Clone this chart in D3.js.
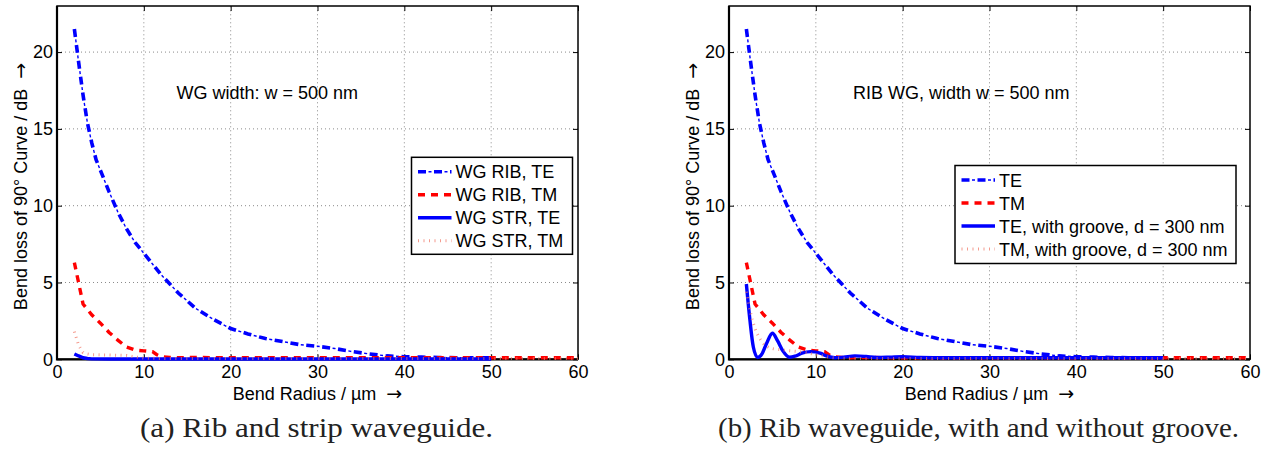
<!DOCTYPE html>
<html>
<head>
<meta charset="utf-8">
<script src="https://cdn.jsdelivr.net/npm/d3@7"></script>
<style>
  body { margin: 0; background: #fff; }
  svg { display: block; }
  text { font-family: "Liberation Sans", Arial, Helvetica, sans-serif; }
</style>
</head>
<body>
<div id="chart"></div>
<script>
// ticks
const xTicks = [0, 10, 20, 30, 40, 50, 60];
const yTicks = [0, 5, 10, 15, 20];

// rib waveguide (both panels)
const ribTeRadius = [2, 2.5, 3, 3.5, 4, 4.5, 5, 6, 7, 8, 9, 10, 11, 12, 13, 14, 15, 16, 18, 20, 22, 24, 26, 28, 30, 32, 34, 36, 38, 40, 42, 44, 46, 48, 50];
const ribTeLoss   = [21.5, 19.3, 17.2, 15.4, 14.1, 13.0, 12.3, 10.9, 9.6, 8.5, 7.6, 6.9, 6.2, 5.5, 4.9, 4.3, 3.8, 3.3, 2.6, 2.0, 1.65, 1.35, 1.15, 0.95, 0.85, 0.7, 0.5, 0.35, 0.22, 0.17, 0.14, 0.12, 0.1, 0.1, 0.1];
const ribTmRadius = [2, 3, 4, 5, 6, 7, 8, 9, 10, 11, 11.5, 12, 13, 14, 16, 20, 30, 40, 50, 60];
const ribTmLoss   = [6.3, 3.6, 2.9, 2.35, 1.75, 1.25, 0.8, 0.6, 0.55, 0.5, 0.3, 0.18, 0.12, 0.1, 0.12, 0.1, 0.1, 0.1, 0.1, 0.1];

// strip waveguide (panel a)
const strTeRadius = [2, 2.5, 3, 3.5, 4, 6, 10, 20, 30, 40, 50];
const strTeLoss   = [0.35, 0.22, 0.1, 0.05, 0.03, 0.02, 0.02, 0.02, 0.02, 0.02, 0.02];
const strTmRadius = [2, 2.5, 3, 3.5, 4, 6, 8, 9, 10, 12, 20, 30, 40, 50, 60];
const strTmLoss   = [1.8, 0.9, 0.45, 0.35, 0.3, 0.28, 0.25, 0.15, 0.08, 0.05, 0.05, 0.05, 0.05, 0.05, 0.05];

// rib waveguide with groove (panel b)
const grvTeRadius = [2, 2.4, 2.8, 3.3, 3.8, 4.3, 5, 5.6, 6.2, 7, 7.6, 8.4, 9.4, 10.5, 11.3, 12.2, 13.2, 14.5, 15.8, 17, 18.5, 20, 22, 25, 30, 40, 50];
const grvTeLoss   = [4.9, 2.6, 0.8, 0.12, 0.35, 1.0, 1.7, 1.2, 0.55, 0.13, 0.2, 0.4, 0.5, 0.4, 0.2, 0.1, 0.14, 0.22, 0.18, 0.12, 0.14, 0.17, 0.12, 0.1, 0.1, 0.1, 0.1];
const grvTmRadius = [2, 2.5, 3, 3.5, 4, 4.5, 5, 6, 7, 8, 9, 10, 11, 12, 14, 20, 30, 40, 50, 60];
const grvTmLoss   = [4.4, 3.0, 2.0, 1.4, 1.0, 0.8, 0.7, 0.62, 0.55, 0.5, 0.42, 0.3, 0.2, 0.1, 0.06, 0.05, 0.05, 0.05, 0.05, 0.05];

const legendA = ["WG RIB, TE", "WG RIB, TM", "WG STR, TE", "WG STR, TM"];
const legendB = ["TE", "TM", "TE, with groove, d = 300 nm", "TM, with groove, d = 300 nm"];

const width = 1274, height = 451;

const svg = d3.select("#chart").append("svg")
    .attr("width", width)
    .attr("height", height);

const zip = (xs, ys) => xs.map((v, i) => [v, ys[i]]);

// line styles, roughly like matlab '-.', '--', '-', ':'
function stroke(g, d, kind) {
    if (kind === "dashdot") {
        g.append("path").attr("d", d).attr("fill", "none")
            .attr("stroke", "#0000ff").attr("stroke-width", 3.6)
            .attr("stroke-dasharray", "8,8");
        g.append("path").attr("d", d).attr("fill", "none")
            .attr("stroke", "#0000ff").attr("stroke-width", 1.4)
            .attr("stroke-dasharray", "3,13").attr("stroke-dashoffset", 5.5);
    } else if (kind === "dashed") {
        g.append("path").attr("d", d).attr("fill", "none")
            .attr("stroke", "#ff0000").attr("stroke-width", 3.4)
            .attr("stroke-dasharray", "7,6");
    } else if (kind === "solid") {
        g.append("path").attr("d", d).attr("fill", "none")
            .attr("stroke", "#0000ff").attr("stroke-width", 3.4);
    } else {
        g.append("path").attr("d", d).attr("fill", "none")
            .attr("stroke", "#f07a68").attr("stroke-width", 3)
            .attr("stroke-opacity", 0.75)
            .attr("stroke-dasharray", "1,4.5");
    }
}

// label text followed by a bigger arrow
function arrowLabel(t, label) {
    t.style("white-space", "pre");
    t.append("tspan").text(label + "  ");
    t.append("tspan")
        .style("font-family", "DejaVu Sans, sans-serif")
        .attr("font-size", 19)
        .text("\u2192");
}

function drawPanel(p) {
    const g = svg.append("g");
    const x = d3.scaleLinear().domain([0, 60]).range([p.left, p.left + 521]);
    const y = d3.scaleLinear().domain([0, 23]).range([359.3, 6]);

    // grid
    g.selectAll(".gx").data(xTicks.slice(1, -1)).join("line")
        .attr("x1", d => x(d)).attr("x2", d => x(d))
        .attr("y1", y(0)).attr("y2", y(23))
        .attr("stroke", "#8a8a8a").attr("stroke-width", 1)
        .attr("stroke-dasharray", "1,3");
    g.selectAll(".gy").data(yTicks.slice(1)).join("line")
        .attr("x1", x(0)).attr("x2", x(60))
        .attr("y1", d => y(d)).attr("y2", d => y(d))
        .attr("stroke", "#8a8a8a").attr("stroke-width", 1)
        .attr("stroke-dasharray", "1,3");

    // axes, ticks pointing inward
    const ax = g.append("g").attr("transform", `translate(0,${y(0)})`)
        .call(d3.axisBottom(x).tickValues(xTicks).tickSizeInner(-5).tickSizeOuter(0).tickPadding(5.5));
    const ay = g.append("g").attr("transform", `translate(${x(0)},0)`)
        .call(d3.axisLeft(y).tickValues(yTicks).tickSizeInner(-5).tickSizeOuter(0).tickPadding(4));
    g.append("g").attr("transform", `translate(0,${y(23)})`)
        .call(d3.axisTop(x).tickValues(xTicks).tickSizeInner(-5).tickSizeOuter(0).tickFormat(""));
    g.append("g").attr("transform", `translate(${x(60)},0)`)
        .call(d3.axisRight(y).tickValues(yTicks).tickSizeInner(-5).tickSizeOuter(0).tickFormat(""));
    g.selectAll(".domain").remove();
    g.selectAll(".tick line").attr("stroke", "#000");
    [ax, ay].forEach(a => a.selectAll("text")
        .attr("font-size", 18).attr("fill", "#000"));

    // box
    g.append("rect")
        .attr("x", x(0)).attr("y", y(23))
        .attr("width", x(60) - x(0)).attr("height", y(0) - y(23))
        .attr("fill", "none").attr("stroke", "#000").attr("stroke-width", 1.5);
    g.append("path")
        .attr("d", `M${x(0)},${y(23)}V${y(0)}H${x(60)}`)
        .attr("fill", "none").attr("stroke", "#000").attr("stroke-width", 2.2);

    // curves
    p.series.forEach(s => {
        const line = d3.line()
            .x(d => x(d[0])).y(d => y(d[1]))
            .curve(s.smooth ? d3.curveMonotoneX : d3.curveLinear);
        stroke(g, line(zip(s.xs, s.ys)), s.kind);
    });

    // annotation
    g.append("text")
        .attr("x", p.noteX).attr("y", 98.5)
        .attr("font-size", 18).attr("fill", "#000")
        .text(p.note);

    // legend
    const lg = g.append("g");
    lg.append("rect")
        .attr("x", p.legend.x).attr("y", p.legend.y)
        .attr("width", p.legend.w).attr("height", p.legend.h)
        .attr("fill", "#fff").attr("stroke", "#000").attr("stroke-width", 1.5);
    p.series.forEach((s, i) => {
        const ry = p.legend.y + 14.5 + i * 23;
        const sx = p.legend.x + 6.5;
        stroke(lg, d3.line()([[sx, ry], [sx + 33.5, ry]]), s.kind);
        lg.append("text")
            .attr("x", sx + 37.5).attr("y", ry + 6.5)
            .attr("font-size", 18).attr("fill", "#000")
            .text(p.labels[i]);
    });

    // axis titles
    g.append("text")
        .attr("transform", `translate(${x(0) - 30.3},186.5) rotate(-90)`)
        .attr("text-anchor", "middle")
        .attr("font-size", 18).attr("fill", "#000")
        .call(arrowLabel, "Bend loss of 90\u00b0 Curve / dB");
    g.append("text")
        .attr("x", (x(0) + x(60)) / 2).attr("y", 400)
        .attr("text-anchor", "middle")
        .attr("font-size", 18).attr("fill", "#000")
        .call(arrowLabel, "Bend Radius / \u00b5m");

    // caption
    g.append("text")
        .attr("x", p.capX).attr("y", 437)
        .style("font-family", "'Liberation Serif', 'Times New Roman', serif")
        .attr("font-size", 27).attr("fill", "#222")
        .attr("textLength", p.capW).attr("lengthAdjust", "spacingAndGlyphs")
        .text(p.caption);
}

drawPanel({
    left: 57,
    note: "WG width: w = 500 nm", noteX: 176.5,
    legend: {x: 411.5, y: 157.3, w: 161, h: 97},
    labels: legendA,
    caption: "(a) Rib and strip waveguide.", capX: 140, capW: 353,
    series: [
        {xs: ribTeRadius, ys: ribTeLoss, kind: "dashdot"},
        {xs: ribTmRadius, ys: ribTmLoss, kind: "dashed"},
        {xs: strTeRadius, ys: strTeLoss, kind: "solid"},
        {xs: strTmRadius, ys: strTmLoss, kind: "dotted"}
    ]
});

drawPanel({
    left: 729,
    note: "RIB WG, width w = 500 nm", noteX: 853,
    legend: {x: 955, y: 165.5, w: 281, h: 98},
    labels: legendB,
    caption: "(b) Rib waveguide, with and without groove.", capX: 718, capW: 521,
    series: [
        {xs: ribTeRadius, ys: ribTeLoss, kind: "dashdot"},
        {xs: ribTmRadius, ys: ribTmLoss, kind: "dashed"},
        {xs: grvTeRadius, ys: grvTeLoss, kind: "solid", smooth: true},
        {xs: grvTmRadius, ys: grvTmLoss, kind: "dotted", smooth: true}
    ]
});
</script>
</body>
</html>
